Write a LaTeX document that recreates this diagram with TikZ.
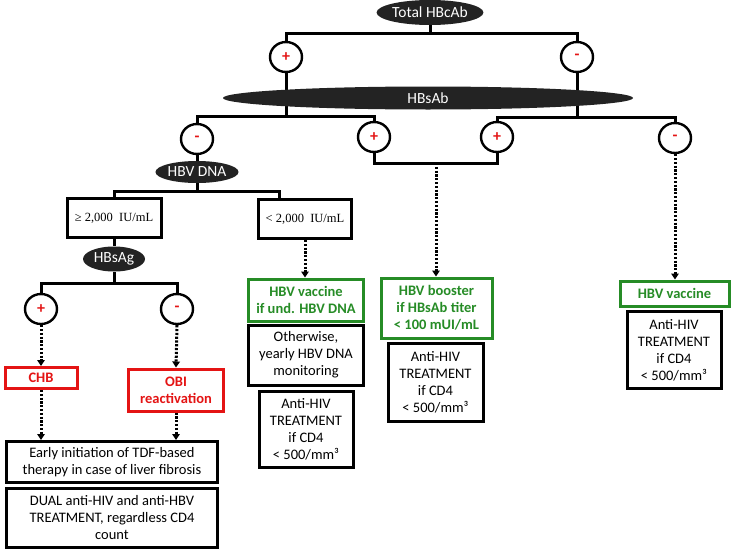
\documentclass[tikz,border=0pt]{standalone}
\usepackage{fontspec}
\setmainfont{Carlito}
\newfontfamily\serifA{Liberation Serif}
\usetikzlibrary{shapes.geometric,arrows.meta,backgrounds}
\definecolor{myred}{RGB}{228,20,20}
\definecolor{mygreen}{RGB}{38,140,38}
\definecolor{ell}{RGB}{35,35,35}
\begin{document}
\begin{tikzpicture}[x=1pt,y=-1pt,
  lbl/.style={font=\fontsize{14.5}{17}\selectfont},
  oval/.style={ellipse, fill=ell, text=white, inner sep=0pt, font=\fontsize{15.5}{17}\selectfont},
  sign/.style={ellipse, draw, line width=2.4pt, fill=white, minimum width=32pt, minimum height=30pt, inner sep=0pt, text=myred, font=\fontsize{16}{17}\selectfont\bfseries},
  box/.style={draw, line width=3pt, fill=white, align=center, inner sep=0pt, lbl},
  sbox/.style={box, font=\fontsize{12.5}{15}\selectfont\serifA},
  gbox/.style={box, draw=mygreen, text=mygreen, font=\fontsize{14.5}{17}\selectfont\bfseries},
  rbox/.style={box, draw=myred, text=myred, font=\fontsize{14.5}{17}\selectfont\bfseries},
  conn/.style={line width=3pt},
  darr/.style={line width=3pt, dash pattern=on 2.2pt off 1.6pt, -{Triangle[length=6pt,width=7.5pt]}},
]
\useasboundingbox (0,0) rectangle (733,554);

% ovals
\node[oval, minimum width=84pt, minimum height=25pt] (tot) at (430,12.5) {Total HBcAb};
\node[oval, minimum width=410pt, minimum height=23pt] (hbsab) at (428,98) {HBsAb};
\node[oval, minimum width=62pt, minimum height=22pt] (hbvdna) at (197,172) {HBV DNA};
\node[oval, minimum width=62pt, minimum height=25pt] (hbsag) at (114,259) {HBsAg};

% signs
\node[sign] (c1) at (286,57) {+};
\node[sign] (c2) at (577,57) {-};
\node[sign] (c3) at (197,139) {-};
\node[sign] (c4) at (374,137) {+};
\node[sign] (c5) at (497,137) {+};
\node[sign] (c6) at (675,138) {-};
\node[sign] (c7) at (41,309) {+};
\node[sign] (c8) at (177,309) {-};

% boxes
\node[sbox, minimum width=94pt, minimum height=39pt] (b1) at (114,218) {≥ 2,000\ \ IU/mL};
\node[sbox, minimum width=93pt, minimum height=39pt] (b2) at (305,219) {< 2,000\ \ IU/mL};
\node[rbox, minimum width=72pt, minimum height=21pt] (chb) at (41,378) {CHB};
\node[rbox, minimum width=95pt, minimum height=42pt] (obi) at (176,390) {OBI\\reactivation};
\node[box, minimum width=211pt, minimum height=41pt] (early) at (112,462) {Early initiation of TDF-based\\therapy in case of liver fibrosis};
\node[box, minimum width=211pt, minimum height=59pt] (dual) at (112,518) {DUAL anti-HIV and anti-HBV\\TREATMENT, regardless CD4\\count};
\node[gbox, minimum width=115pt, minimum height=42pt] (gv1) at (306,300) {HBV vaccine\\if und. HBV DNA};
\node[box, minimum width=115pt, minimum height=60pt] (oth) at (306,355) {Otherwise,\\yearly HBV DNA\\monitoring};
\node[box, minimum width=94pt, minimum height=76pt] (ah1) at (306,429) {Anti-HIV\\TREATMENT\\if CD4\\< 500/mm³};
\node[gbox, minimum width=111pt, minimum height=60pt] (gb) at (436.5,308) {HBV booster\\if HBsAb titer\\< 100 mUI/mL};
\node[box, minimum width=95pt, minimum height=78pt] (ah2) at (435.5,382) {Anti-HIV\\TREATMENT\\if CD4\\< 500/mm³};
\node[gbox, minimum width=109pt, minimum height=25pt] (gv2) at (674.5,293.5) {HBV vaccine};
\node[box, minimum width=94pt, minimum height=77pt] (ah3) at (674,350) {Anti-HIV\\TREATMENT\\if CD4\\< 500/mm³};

\coordinate (j) at (436,163);
\coordinate (k) at (279,0);

\begin{scope}[on background layer]
\draw[conn] (tot.south) -- (tot.south |- 0,33);
\draw[conn] (c1.north) -- (c1.north |- 0,33) -- (c2.north |- 0,33) -- (c2.north);
\draw[conn] (c1.south) -- (c1.south |- 0,116) -- (c3.north |- 0,116) -- (c3.north);
\draw[conn] (c1.south |- 0,116) -- (c4.north |- 0,116) -- (c4.north);
\draw[conn] (c2.south) -- (c2.south |- 0,117);
\draw[conn] (c5.north) -- (c5.north |- 0,117) -- (c6.north |- 0,117) -- (c6.north);
\draw[conn] (c4.south) -- (c4.south |- j) -- (c5.south |- j) -- (c5.south);
\draw[conn] (c3.south) -- (hbvdna.north);
\draw[conn] (hbvdna.south) -- (hbvdna.south |- 0,191);
\draw[conn] (b1.north) -- (b1.north |- 0,191) -- (k |- 0,191) -- (b2.north -| k);
\draw[conn] (b1.south) -- (hbsag.north);
\draw[conn] (hbsag.south) -- (hbsag.south |- 0,283);
\draw[conn] (c7.north) -- (c7.north |- 0,283) -- (c8.north |- 0,283) -- (c8.north);
\end{scope}

\draw[darr] (j) -- (j |- gb.north);
\draw[darr] (c6.south) -- (c6.south |- gv2.north);
\draw[darr] (b2.south) -- (b2.south |- gv1.north);
\draw[darr] (c7.south) -- (chb.north);
\draw[darr] (c8.south) -- (obi.north);
\draw[darr] (chb.south) -- (chb.south |- early.north);
\draw[darr] (obi.south) -- (obi.south |- early.north);
\end{tikzpicture}
\end{document}
